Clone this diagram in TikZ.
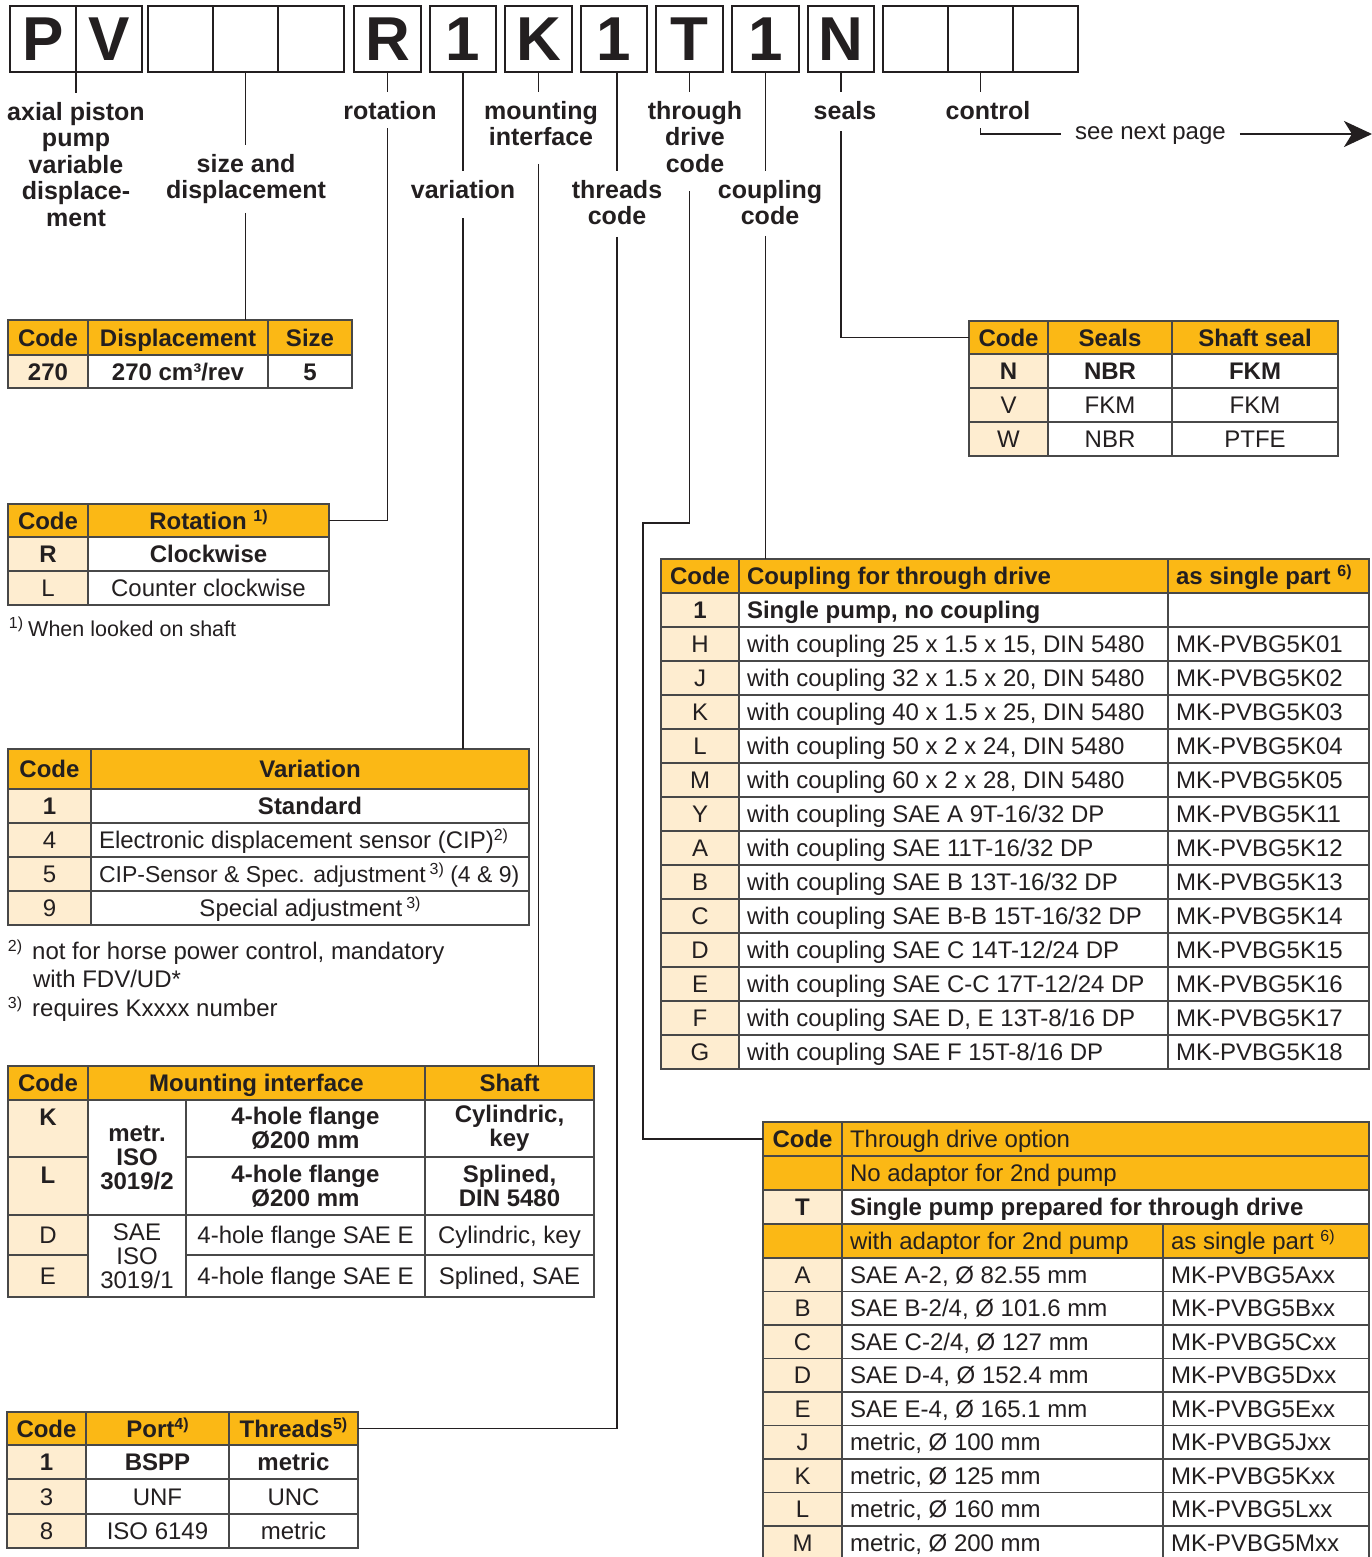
\documentclass[tikz,border=0pt]{standalone}
\usepackage{fontspec}
\setmainfont{Liberation Sans}
\usetikzlibrary{arrows.meta,calc}
\definecolor{orng}{RGB}{251,184,21}
\definecolor{cream}{RGB}{254,237,208}
\definecolor{bord}{RGB}{72,72,72}
\definecolor{ink}{RGB}{35,31,32}
\newcommand\sups[1]{\raisebox{8pt}{\fontsize{16}{16}\selectfont #1}}
% name, x, y, width, height, fill, text
\newcommand\tcc[7]{\node[cellbox,fill=#6,minimum width={(#4)*1pt},minimum height={(#5)*1pt},anchor=north west] (#1) at (#2,#3) {};
  \node[celltxt] (#1t) at (#1.center) {#7};}
\newcommand\tcl[7]{\node[cellbox,fill=#6,minimum width={(#4)*1pt},minimum height={(#5)*1pt},anchor=north west] (#1) at (#2,#3) {};
  \node[celltxt,anchor=west] (#1t) at ([xshift=8pt]#1.west) {#7};}
\begin{document}
\begin{tikzpicture}[x=1pt,y=-1pt,
  every node/.style={outer sep=0pt},
  topbox/.style={draw=ink,line width=1.4pt,minimum height=66pt,inner sep=0pt,font=\fontsize{62}{62}\selectfont\bfseries,text=ink},
  lbl/.style={font=\fontsize{25}{26.5}\selectfont\bfseries,align=center,inner xsep=2pt,inner ysep=9pt,text=ink},
  cellbox/.style={draw=bord,line width=1.3pt,inner sep=0pt},
  celltxt/.style={inner sep=0pt,text height=17pt,text depth=0pt,font=\fontsize{24}{24}\selectfont,text=ink},
  mtxt/.style={inner sep=0pt,align=center,font=\fontsize{24}{24}\selectfont,text=ink},
  foot/.style={inner sep=0pt,text=ink,anchor=base west},
  conn/.style={draw=ink,line width=1.3pt}
]
\useasboundingbox (0,0) rectangle (1372,1557);
\fill[white] (0,0) rectangle (1372,1557);

% ---------- top code boxes ----------
\node[topbox,minimum width=66pt,anchor=north west] (bP) at (10,6) {P};
\node[topbox,minimum width=66pt,anchor=north west] (bV) at (76,6) {V};
\node[topbox,minimum width=65pt,anchor=north west] (bE1) at (148,6) {};
\node[topbox,minimum width=65pt,anchor=north west] (bE2) at (213,6) {};
\node[topbox,minimum width=66pt,anchor=north west] (bE3) at (278,6) {};
\node[topbox,minimum width=67pt,anchor=north west] (bR) at (354,6) {R};
\node[topbox,minimum width=66pt,anchor=north west] (bOa) at (430,6) {1};
\node[topbox,minimum width=67pt,anchor=north west] (bK) at (505,6) {K};
\node[topbox,minimum width=66pt,anchor=north west] (bOb) at (581,6) {1};
\node[topbox,minimum width=67pt,anchor=north west] (bT) at (656,6) {T};
\node[topbox,minimum width=67pt,anchor=north west] (bOc) at (732,6) {1};
\node[topbox,minimum width=66pt,anchor=north west] (bN) at (808,6) {N};
\node[topbox,minimum width=65pt,anchor=north west] (bE4) at (883,6) {};
\node[topbox,minimum width=65pt,anchor=north west] (bE5) at (948,6) {};
\node[topbox,minimum width=65pt,anchor=north west] (bE6) at (1013,6) {};

% ---------- size table ----------
\tcc{tszC}{8}{320}{80}{35}{orng}{\bfseries Code}
\tcc{tszD}{88}{320}{180}{35}{orng}{\bfseries Displacement}
\tcc{tszS}{268}{320}{84}{35}{orng}{\bfseries Size}
\tcc{tszr1}{8}{355}{80}{33}{cream}{\bfseries 270}
\tcc{tszr2}{88}{355}{180}{33}{white}{\bfseries 270 cm³/rev}
\tcc{tszr3}{268}{355}{84}{33}{white}{\bfseries 5}

% ---------- rotation table ----------
\tcc{trC}{8}{504}{80}{33}{orng}{\bfseries Code}
\tcc{trotH}{88}{504}{241}{33}{orng}{\bfseries Rotation \sups{1)}}
\tcc{trR}{8}{537}{80}{34}{cream}{\bfseries R}
\tcc{trRd}{88}{537}{241}{34}{white}{\bfseries Clockwise}
\tcc{trL}{8}{571}{80}{34}{cream}{L}
\tcc{trLd}{88}{571}{241}{34}{white}{Counter clockwise}
\node[foot,font=\fontsize{21.5}{21.5}\selectfont] (fn1) at (9,636) {\sups{1)}\hspace{5pt}When looked on shaft};

% ---------- seals table ----------
\tcc{tseaH}{969}{321}{79}{33}{orng}{\bfseries Code}
\tcc{tseaS}{1048}{321}{124}{33}{orng}{\bfseries Seals}
\tcc{tseaF}{1172}{321}{166}{33}{orng}{\bfseries Shaft seal}
\tcc{tsN}{969}{354}{79}{34}{cream}{\bfseries N}
\tcc{tsNa}{1048}{354}{124}{34}{white}{\bfseries NBR}
\tcc{tsNb}{1172}{354}{166}{34}{white}{\bfseries FKM}
\tcc{tsV}{969}{388}{79}{34}{cream}{V}
\tcc{tsVa}{1048}{388}{124}{34}{white}{FKM}
\tcc{tsVb}{1172}{388}{166}{34}{white}{FKM}
\tcc{tsW}{969}{422}{79}{34}{cream}{W}
\tcc{tsWa}{1048}{422}{124}{34}{white}{NBR}
\tcc{tsWb}{1172}{422}{166}{34}{white}{PTFE}

% ---------- variation table ----------
\tcc{tvC}{8}{749}{83}{40}{orng}{\bfseries Code}
\tcc{tvarH}{91}{749}{438}{40}{orng}{\bfseries Variation}
\tcc{tv1}{8}{789}{83}{34}{cream}{\bfseries 1}
\tcc{tv1d}{91}{789}{438}{34}{white}{\bfseries Standard}
\tcc{tv4}{8}{823}{83}{34}{cream}{4}
\tcl{tv4d}{91}{823}{438}{34}{white}{Electronic displacement sensor (CIP)\sups{2)}}
\tcc{tv5}{8}{857}{83}{34}{cream}{5}
\tcl{tv5d}{91}{857}{438}{34}{white}{\fontsize{23}{23}\selectfont CIP-Sensor \& Spec. adjustment\,\sups{3)} (4 \& 9)}
\tcc{tv9}{8}{891}{83}{34}{cream}{9}
\tcc{tv9d}{91}{891}{438}{34}{white}{Special adjustment\,\sups{3)}}
\node[foot,font=\fontsize{24}{24}\selectfont] (fn2) at (8,959) {\sups{2)}\hspace{10pt}not for horse power control, mandatory};
\node[foot,font=\fontsize{24}{24}\selectfont] (fn2b) at (33,987) {with FDV/UD*};
\node[foot,font=\fontsize{24}{24}\selectfont] (fn3) at (8,1016) {\sups{3)}\hspace{10pt}requires Kxxxx number};

% ---------- mounting interface table ----------
\tcc{tmC}{8}{1066}{80}{34}{orng}{\bfseries Code}
\tcc{tmntH}{88}{1066}{337}{34}{orng}{\bfseries Mounting interface}
\tcc{tmS}{425}{1066}{169}{34}{orng}{\bfseries Shaft}
\node[cellbox,fill=cream,minimum width=80pt,minimum height=57pt,anchor=north west] (tmK) at (8,1100) {};
\node[celltxt,font=\fontsize{24}{24}\selectfont\bfseries] (tmKt) at (48,1117) {K};
\node[cellbox,fill=cream,minimum width=80pt,minimum height=58pt,anchor=north west] (tmL) at (8,1157) {};
\node[celltxt,font=\fontsize{24}{24}\selectfont\bfseries] (tmLt) at (48,1175) {L};
\node[cellbox,fill=white,minimum width=98pt,minimum height=115pt,anchor=north west] (tmM1) at (88,1100) {};
\node[mtxt,font=\fontsize{24}{24}\selectfont\bfseries] (tmM1t) at (tmM1.center) {metr.\\ISO\\3019/2};
\node[cellbox,fill=white,minimum width=239pt,minimum height=57pt,anchor=north west] (tmFK) at (186,1100) {};
\node[mtxt,font=\fontsize{24}{24}\selectfont\bfseries] (tmFKt) at (tmFK.center) {4-hole flange\\Ø200 mm};
\node[cellbox,fill=white,minimum width=169pt,minimum height=57pt,anchor=north west] (tmSK) at (425,1100) {};
\node[mtxt,font=\fontsize{24}{24}\selectfont\bfseries] (tmSKt) at (tmSK.center) {Cylindric,\\key};
\node[cellbox,fill=white,minimum width=239pt,minimum height=58pt,anchor=north west] (tmFL) at (186,1157) {};
\node[mtxt,font=\fontsize{24}{24}\selectfont\bfseries] (tmFLt) at (tmFL.center) {4-hole flange\\Ø200 mm};
\node[cellbox,fill=white,minimum width=169pt,minimum height=58pt,anchor=north west] (tmSL) at (425,1157) {};
\node[mtxt,font=\fontsize{24}{24}\selectfont\bfseries] (tmSLt) at (tmSL.center) {Splined,\\DIN 5480};
\tcc{tmD}{8}{1215}{80}{40}{cream}{D}
\tcc{tmE}{8}{1255}{80}{42}{cream}{E}
\node[cellbox,fill=white,minimum width=98pt,minimum height=82pt,anchor=north west] (tmM2) at (88,1215) {};
\node[mtxt] (tmM2t) at (tmM2.center) {SAE\\ISO\\3019/1};
\tcc{tmFD}{186}{1215}{239}{40}{white}{4-hole flange SAE E}
\tcc{tmSD}{425}{1215}{169}{40}{white}{Cylindric, key}
\tcc{tmFE}{186}{1255}{239}{42}{white}{4-hole flange SAE E}
\tcc{tmSE}{425}{1255}{169}{42}{white}{Splined, SAE}

% ---------- threads table ----------
\tcc{tthC}{7}{1412}{79}{33}{orng}{\bfseries Code}
\tcc{tthP}{86}{1412}{143}{33}{orng}{\bfseries Port\sups{4)}}
\tcc{tthdH}{229}{1412}{129}{33}{orng}{\bfseries Threads\sups{5)}}
\tcc{tth1}{7}{1445}{79}{34}{cream}{\bfseries 1}
\tcc{tth1a}{86}{1445}{143}{34}{white}{\bfseries BSPP}
\tcc{tth1b}{229}{1445}{129}{34}{white}{\bfseries metric}
\tcc{tth3}{7}{1479}{79}{35}{cream}{3}
\tcc{tth3a}{86}{1479}{143}{35}{white}{UNF}
\tcc{tth3b}{229}{1479}{129}{35}{white}{UNC}
\tcc{tth8}{7}{1514}{79}{34}{cream}{8}
\tcc{tth8a}{86}{1514}{143}{34}{white}{ISO 6149}
\tcc{tth8b}{229}{1514}{129}{34}{white}{metric}

% ---------- coupling table ----------
\tcc{tcC}{661}{559}{78}{34}{orng}{\bfseries Code}
\tcl{tcplH}{739}{559}{429}{34}{orng}{\bfseries Coupling for through drive}
\tcl{tcP}{1168}{559}{201}{34}{orng}{\bfseries as single part \sups{6)}}
\tcc{tc1}{661}{593}{78}{34}{cream}{\bfseries 1}
\tcl{tc1d}{739}{593}{429}{34}{white}{\bfseries Single pump, no coupling}
\tcl{tc1p}{1168}{593}{201}{34}{white}{}
\foreach \c/\d/\p [count=\i] in {
  H/{with coupling 25 x 1.5 x 15, DIN 5480}/MK-PVBG5K01,
  J/{with coupling 32 x 1.5 x 20, DIN 5480}/MK-PVBG5K02,
  K/{with coupling 40 x 1.5 x 25, DIN 5480}/MK-PVBG5K03,
  L/{with coupling 50 x 2 x 24, DIN 5480}/MK-PVBG5K04,
  M/{with coupling 60 x 2 x 28, DIN 5480}/MK-PVBG5K05,
  Y/{with coupling SAE A 9T-16/32 DP}/MK-PVBG5K11,
  A/{with coupling SAE 11T-16/32 DP}/MK-PVBG5K12,
  B/{with coupling SAE B 13T-16/32 DP}/MK-PVBG5K13,
  C/{with coupling SAE B-B 15T-16/32 DP}/MK-PVBG5K14,
  D/{with coupling SAE C 14T-12/24 DP}/MK-PVBG5K15,
  E/{with coupling SAE C-C 17T-12/24 DP}/MK-PVBG5K16,
  F/{with coupling SAE D, E 13T-8/16 DP}/MK-PVBG5K17,
  G/{with coupling SAE F 15T-8/16 DP}/MK-PVBG5K18}{
  \pgfmathtruncatemacro\yy{627+34*(\i-1)}
  \tcc{tcc\i}{661}{\yy}{78}{34}{cream}{\c}
  \tcl{tcd\i}{739}{\yy}{429}{34}{white}{\d}
  \tcl{tcp\i}{1168}{\yy}{201}{34}{white}{\p}
}

% ---------- through drive table ----------
\tcc{ttdH}{763}{1122}{79}{34}{orng}{\bfseries Code}
\tcl{ttdO}{842}{1122}{527}{34}{orng}{Through drive option}
\tcc{ttd2}{763}{1156}{79}{34}{orng}{}
\tcl{ttd2d}{842}{1156}{527}{34}{orng}{No adaptor for 2nd pump}
\tcc{ttdT}{763}{1190}{79}{34}{cream}{\bfseries T}
\tcl{ttdTd}{842}{1190}{527}{34}{white}{\bfseries Single pump prepared for through drive}
\tcc{ttd4}{763}{1224}{79}{34}{orng}{}
\tcl{ttd4d}{842}{1224}{321}{34}{orng}{with adaptor for 2nd pump}
\tcl{ttd4p}{1163}{1224}{206}{34}{orng}{as single part \sups{6)}}
\foreach \c/\d/\p [count=\i] in {
  A/{SAE A-2, Ø 82.55 mm}/MK-PVBG5Axx,
  B/{SAE B-2/4, Ø 101.6 mm}/MK-PVBG5Bxx,
  C/{SAE C-2/4, Ø 127 mm}/MK-PVBG5Cxx,
  D/{SAE D-4, Ø 152.4 mm}/MK-PVBG5Dxx,
  E/{SAE E-4, Ø 165.1 mm}/MK-PVBG5Exx,
  J/{metric, Ø 100 mm}/MK-PVBG5Jxx,
  K/{metric, Ø 125 mm}/MK-PVBG5Kxx,
  L/{metric, Ø 160 mm}/MK-PVBG5Lxx,
  M/{metric, Ø 200 mm}/MK-PVBG5Mxx}{
  \pgfmathsetmacro\yy{1258+33.5*(\i-1)}
  \tcc{tdc\i}{763}{\yy}{79}{33.5}{cream}{\c}
  \tcl{tdd\i}{842}{\yy}{321}{33.5}{white}{\d}
  \tcl{tdp\i}{1163}{\yy}{206}{33.5}{white}{\p}
}

% ---------- labels ----------
\node[lbl,anchor=north] (lpv) at (76,93) {axial piston\\pump\\variable\\displace-\\ment};
\node[lbl,anchor=north] (lsize) at (246,145) {size and\\displacement};
\node[lbl,anchor=north] (lrot) at (390,92) {rotation};
\node[lbl,anchor=north] (lvar) at (463,171) {variation};
\node[lbl,anchor=north] (lmnt) at (541,92) {mounting\\interface};
\node[lbl,anchor=north] (lthd) at (617,171) {threads\\code};
\node[lbl,anchor=north] (lthr) at (695,92) {through\\drive\\code};
\node[lbl,anchor=north] (lcpl) at (770,171) {coupling\\code};
\node[lbl,anchor=north] (lsea) at (845,92) {seals};
\node[lbl,anchor=north] (lctl) at (988,92) {control};
\node[anchor=west,inner xsep=14pt,inner ysep=0pt,font=\fontsize{24}{24}\selectfont,text=ink] (snp) at (1061,134) {see next page};
\coordinate (arrEnd) at (1372,134);
\coordinate (thrbend) at (643,523);

% ---------- connectors ----------
\draw[conn] (bP.south east) -- (bP.south east |- lpv.north);
\draw[conn] (bE2.south) -- (bE2.south |- lsize.north);
\draw[conn] (bE2.south |- lsize.south) -- (bE2.south |- tszD.north);
\draw[conn] (bR.south) -- (bR.south |- lrot.north);
\draw[conn] (bR.south |- lrot.south) |- (trotH.east);
\draw[conn] (bOa.south) -- (bOa.south |- lvar.north);
\draw[conn] ($(bOa.south |- lvar.south)+(0,11)$) -- (bOa.south |- tvarH.north);
\draw[conn] (bK.south) -- (bK.south |- lmnt.north);
\draw[conn] ($(bK.south |- lmnt.south)+(0,9)$) -- (bK.south |- tmntH.north);
\draw[conn] (lthd.north |- bOb.south) -- (lthd.north);
\draw[conn] ($(lthd.south)+(0,3)$) |- (tthdH.east);
\draw[conn] (bT.south) -- (bT.south |- lthr.north);
\draw[conn] ($(bT.south |- lthr.south)+(0,10)$) -- (bT.south |- thrbend) -- (thrbend) |- (ttdH.west);
\draw[conn] (bOc.south) -- (bOc.south |- lcpl.north);
\draw[conn] ($(bOc.south |- lcpl.south)+(0,2)$) -- (bOc.south |- tcplH.north);
\draw[conn] (bN.south) -- (bN.south |- lsea.north);
\draw[conn] ($(bN.south |- lsea.south)+(0,3)$) |- (tseaH.west);
\draw[conn] (bE5.south) -- (bE5.south |- lctl.north);
\draw[conn] (bE5.south |- lctl.south) |- (snp.west);
\draw[draw=ink,line width=2.6pt,-{Stealth[length=28pt,width=26pt,inset=8pt]}] (snp.east) -- (arrEnd);
\end{tikzpicture}
\end{document}
